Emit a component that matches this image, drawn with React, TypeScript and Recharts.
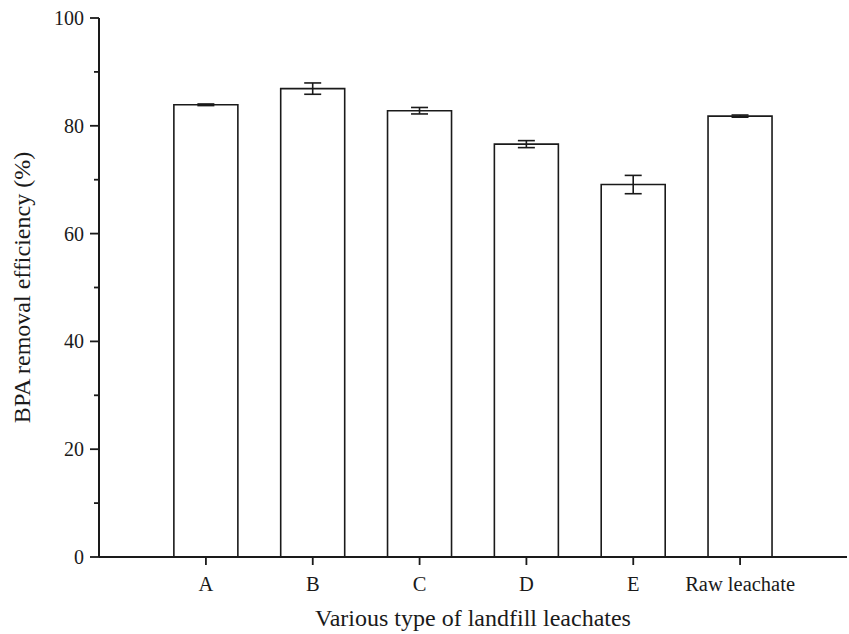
import React from "react"
import { ComposedChart, Bar, ErrorBar, XAxis, YAxis } from "recharts"

const categories = ["A", "B", "C", "D", "E", "Raw leachate"]
const efficiency = [83.9, 86.9, 82.8, 76.6, 69.1, 81.8]
const errors = [0.15, 1.05, 0.6, 0.65, 1.7, 0.2]
const yTicks = [0, 10, 20, 30, 40, 50, 60, 70, 80, 90, 100]

const data = categories.map((name, i) => ({ name, value: efficiency[i], err: errors[i] }))

const FONT = "'Liberation Serif', 'Times New Roman', serif"
const INK = "#1a1a1a"

const YTick = (props: any) => {
  const { x, y, payload } = props
  const major = payload.value % 20 === 0
  return (
    <g>
      <line x1={x - (major ? 9 : 5)} y1={y} x2={x} y2={y} stroke={INK} strokeWidth={1.8} />
      {major && (
        <text x={x - 15} y={y} dy="0.35em" textAnchor="end" fontFamily={FONT} fontSize={20} fill={INK}>
          {payload.value}
        </text>
      )}
    </g>
  )
}

const XTick = (props: any) => {
  const { x, y, payload } = props
  return (
    <g>
      <line x1={x} y1={y} x2={x} y2={y + 8} stroke={INK} strokeWidth={1.8} />
      <text x={x} y={y + 34} textAnchor="middle" fontFamily={FONT} fontSize={20.5} fill={INK}>
        {payload.value}
      </text>
    </g>
  )
}

export default function App() {
  return (
    <div style={{ position: "absolute", left: 0, top: 0, background: "#fff" }}>
      <ComposedChart
        width={849}
        height={634}
        data={data}
        margin={{ top: 18, right: 2, bottom: 0, left: 0 }}
        barCategoryGap="20%"
      >
        <XAxis
          dataKey="name"
          height={77}
          padding={{ left: 53.5, right: 53.5 }}
          axisLine={{ stroke: INK, strokeWidth: 2 }}
          tickLine={false}
          tickSize={0}
          tickMargin={0}
          tick={<XTick />}
          interval={0}
          label={{
            content: (p: any) => (
              <text
                x={p.viewBox.x + p.viewBox.width / 2}
                y={p.viewBox.y + 69}
                textAnchor="middle"
                fontFamily={FONT}
                fontSize={24}
                fill={INK}
              >
                Various type of landfill leachates
              </text>
            ),
          }}
        />
        <XAxis xAxisId="top" dataKey="name" orientation="top" height={0} tick={false} tickLine={false} axisLine={{ stroke: INK, strokeWidth: 2 }} />
        <YAxis
          width={99}
          domain={[0, 100]}
          ticks={yTicks}
          interval={0}
          axisLine={{ stroke: INK, strokeWidth: 2 }}
          tickLine={false}
          tickSize={0}
          tickMargin={0}
          tick={<YTick />}
          label={{
            content: (p: any) => {
              const cx = p.viewBox.x + 22
              const cy = p.viewBox.y + p.viewBox.height / 2
              return (
                <text
                  x={cx}
                  y={cy}
                  dy="0.35em"
                  textAnchor="middle"
                  transform={`rotate(-90, ${cx}, ${cy})`}
                  fontFamily={FONT}
                  fontSize={24}
                  fill={INK}
                >
                  BPA removal efficiency (%)
                </text>
              )
            },
          }}
        />
        <YAxis yAxisId="right" orientation="right" width={0} tick={false} tickLine={false} axisLine={{ stroke: INK, strokeWidth: 2 }} />
        <Bar dataKey="value" fill="#ffffff" stroke={INK} strokeWidth={1.6} isAnimationActive={false}>
          <ErrorBar dataKey="err" width={8.5} stroke={INK} strokeWidth={1.6} />
        </Bar>
      </ComposedChart>
    </div>
  )
}
